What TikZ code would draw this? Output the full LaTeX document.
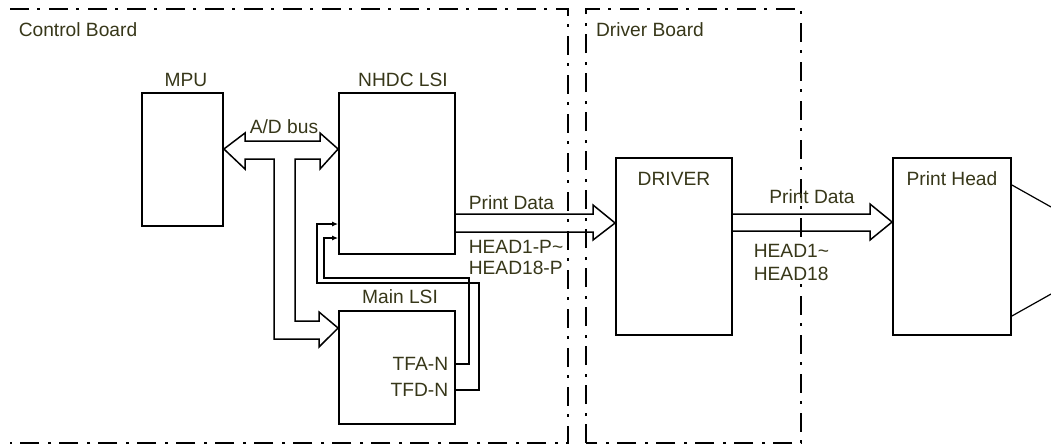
\documentclass[tikz,border=0pt]{standalone}
\usepackage{fontspec}
\setmainfont{Liberation Sans}
\usepackage{xcolor}
\usetikzlibrary{arrows.meta}
\definecolor{labelcol}{RGB}{55,55,25}

\begin{document}
\begin{tikzpicture}[x=0.5pt,y=-0.5pt,line width=0.8pt]

	\tikzstyle{block} = [draw,line width=0.9pt,inner sep=0pt]
	\tikzstyle{txt} = [inner sep=0pt,text=labelcol,font=\fontsize{9.6}{11}\selectfont]
	\tikzstyle{board} = [line width=0.9pt,dash pattern=on 9.5pt off 4pt on 1.5pt off 4.5pt]
	\tikzstyle{bus} = [line width=0.75pt,line join=miter]
	\tikzstyle{sig} = [line width=0.75pt,-{Latex[length=3pt,width=2.5pt]}]

	\useasboundingbox (0,0) rectangle (1051,446);
	\clip (0,0) rectangle (1051,446);

	% boards
	\draw[board] (10,9) -- (568,9) -- (568,443) -- (10,443);
	\draw[board] (586,443) -- (586,9) -- (801,9) -- (801,443) -- cycle;
	\node[txt] (cblabel) at (78,30) {Control Board};
	\node[txt] (dblabel) at (650,30) {Driver Board};

	% blocks
	\node[block,minimum width=40.5pt,minimum height=66.5pt] (mpu) at (182.5,159.5) {};
	\node[block,minimum width=58pt,minimum height=80.5pt] (nhdc) at (397,173.5) {};
	\node[block,minimum width=58pt,minimum height=56.5pt] (mainlsi) at (397,367.5) {};
	\node[block,minimum width=58pt,minimum height=88.5pt] (driver) at (674,246.5) {};
	\node[block,minimum width=59pt,minimum height=88.5pt] (head) at (952,246.5) {};

	\node[txt] (mpulabel) at (186,80) {MPU};
	\node[txt] (nhdclabel) at (403,80) {NHDC LSI};
	\node[txt] (mainlabel) at (400,297) {Main LSI};
	\node[txt] (drvlabel) at (674,179) {DRIVER};
	\node[txt] (headlabel) at (952,179) {Print Head};
	\node[txt,anchor=east] (tfa) at (449,364) {TFA-N};
	\node[txt,anchor=east] (tfd) at (449,390) {TFD-N};

	% A/D bus
	\draw[bus] (mpu.east |- 0,149) -- (245,133) -- (245,141) -- (320,141) -- (320,133)
		-- (nhdc.west |- 0,149) -- (320,169) -- (320,159) -- (295,159) -- (295,321)
		-- (319,321) -- (319,312) -- (mainlsi.west |- 0,328) -- (319,347) -- (319,339)
		-- (274,339) -- (274,159) -- (245,159) -- (245,169) -- cycle;
	\node[txt] (buslabel) at (284,127) {A/D bus};

	% TFA-N, TFD-N
	\draw[sig] (mainlsi.east |- 0,364) -- (469,364) -- (469,278) -- (324,278) -- (324,238) -- (nhdc.west |- 0,238);
	\draw[sig] (mainlsi.east |- 0,390) -- (479,390) -- (479,283) -- (317,283) -- (317,224) -- (nhdc.west |- 0,224);

	% print data
	\draw[bus] (nhdc.east |- 0,214) -- (593,214) -- (593,205) -- (driver.west |- 0,223)
		-- (593,240) -- (593,232) -- (nhdc.east |- 0,232);
	\node[txt,anchor=west] (pd1) at (468,203) {Print Data};
	\node[txt,anchor=west,align=left,font=\fontsize{9.6}{10.5}\selectfont] (hp) at (468,257.5) {HEAD1-P\textasciitilde\\HEAD18-P};

	\draw[bus] (driver.east |- 0,214) -- (870,214) -- (870,204) -- (head.west |- 0,222)
		-- (870,240) -- (870,231) -- (driver.east |- 0,231);
	\node[txt] (pd2) at (812,197) {Print Data};
	\node[txt,anchor=west,align=left,fill=white,inner ysep=2pt,font=\fontsize{9.6}{11.5}\selectfont] (hd) at (753,262) {HEAD1\textasciitilde\\HEAD18};

	% head wires
	\coordinate (w1) at (1060,212);
	\coordinate (w2) at (1060,289);
	\draw[line width=0.6pt] (head.east |- 0,185) -- (w1);
	\draw[line width=0.6pt] (head.east |- 0,316) -- (w2);
\end{tikzpicture}
\end{document}
